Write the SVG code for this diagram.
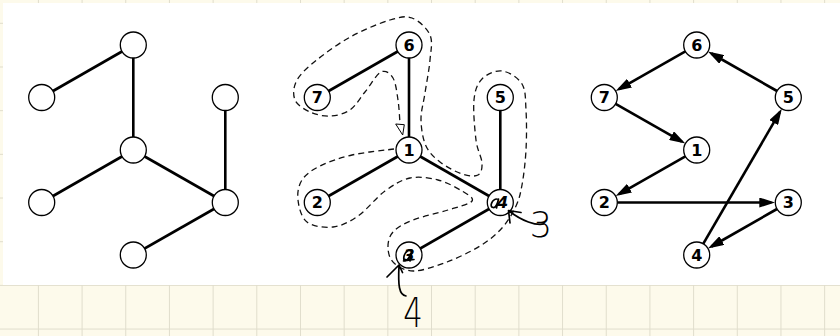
<svg xmlns="http://www.w3.org/2000/svg" width="840" height="336" viewBox="0 0 840 336">
<defs>
<pattern id="grid" x="37.9" y="22.8" width="43.68" height="43.68" patternUnits="userSpaceOnUse">
<path d="M0.5,0 V43.68 M0,0.5 H43.68" stroke="#e0ddcc" stroke-width="1" fill="none"/>
</pattern>
<marker id="ah" markerWidth="16" markerHeight="10" refX="12" refY="5" orient="auto" markerUnits="userSpaceOnUse">
<path d="M0,0 L16,5 L0,10 z" fill="#000"/>
</marker>
<style>
.n circle{fill:#fff;stroke:#000;stroke-width:1.3}
.n text{font-family:"DejaVu Sans",sans-serif;font-weight:bold;font-size:16px;text-anchor:middle;fill:#000}
.e line{stroke:#000;stroke-width:2.6}
.a line{stroke:#000;stroke-width:2.6;marker-end:url(#ah)}
.tour{fill:none;stroke:#111;stroke-width:1.3;stroke-dasharray:6 4}
.ink{fill:none;stroke:#000;stroke-width:1.7;stroke-linecap:round;stroke-linejoin:round}
.hand{font-family:"DejaVu Sans ExtraLight","DejaVu Sans",sans-serif;font-weight:200;fill:#000}
</style>
</defs>
<rect width="840" height="336" fill="#fdfaeb"/>
<rect width="840" height="336" fill="url(#grid)"/>
<rect x="3" y="3" width="837" height="282" fill="#fff"/>

<g id="connectors">
<g class="e">
<line x1="133.3" y1="45" x2="41.7" y2="97.5"/>
<line x1="133.3" y1="45" x2="133.3" y2="150"/>
<line x1="133.3" y1="150" x2="41.7" y2="202.5"/>
<line x1="133.3" y1="150" x2="225.3" y2="202.5"/>
<line x1="225.3" y1="97.5" x2="225.3" y2="202.5"/>
<line x1="225.3" y1="202.5" x2="133.3" y2="255"/>
<line x1="409" y1="45" x2="317.3" y2="97.5"/>
<line x1="409" y1="45" x2="409" y2="150"/>
<line x1="409" y1="150" x2="317.3" y2="202.5"/>
<line x1="409" y1="150" x2="500.3" y2="202.5"/>
<line x1="500.3" y1="97.5" x2="500.3" y2="202.5"/>
<line x1="500.3" y1="202.5" x2="409" y2="255"/>
</g>
<g class="a">
<line x1="685.4" y1="51.4" x2="619.1" y2="89.1"/>
<line x1="615.6" y1="103.9" x2="681.9" y2="141.6"/>
<line x1="685.4" y1="156.4" x2="619.1" y2="194.1"/>
<line x1="617.3" y1="202.5" x2="771.3" y2="202.5"/>
<line x1="777" y1="209" x2="711.4" y2="246.5"/>
<line x1="703.2" y1="243.8" x2="779.8" y2="112.2"/>
<line x1="777" y1="91" x2="711.4" y2="53.5"/>
</g>
<path class="tour" d="M394,149 C387,150 364.3,152.2 352,155 C339.7,157.8 328.3,161.8 320,166 C311.7,170.2 305.7,174.3 302,180 C298.3,185.7 297.2,193 298,200 C298.8,207 301.2,217.5 307,222 C312.8,226.5 324.5,228 333,227 C341.5,226 349.3,222 358,216 C366.7,210 376.3,197.3 385,191 C393.7,184.7 401.2,179.8 410,178 C418.8,176.2 429.3,177.8 438,180 C446.7,182.2 456.3,187.5 462,191 C467.7,194.5 474.3,197.8 472,201 C469.7,204.2 457.8,206.8 448,210 C438.2,213.2 422.2,216.3 413,220 C403.8,223.7 397.2,227.3 393,232 C388.8,236.7 387.8,242.8 388,248 C388.2,253.2 389.7,259.2 394,263 C398.3,266.8 405.2,271.2 414,271 C422.8,270.8 436,266.2 447,262 C458,257.8 470.8,251.7 480,246 C489.2,240.3 496,234.7 502,228 C508,221.3 512.7,213.2 516,206 C519.3,198.8 520.3,194.3 522,185 C523.7,175.7 525.3,162.5 526,150 C526.7,137.5 526.7,121 526,110 C525.3,99 526,90.5 522,84 C518,77.5 508.7,71.8 502,71 C495.3,70.2 486.7,74.2 482,79 C477.3,83.8 475,89.8 474,100 C473,110.2 474.7,129.5 476,140 C477.3,150.5 481.7,157.2 482,163 C482.3,168.8 481.3,173.2 478,175 C474.7,176.8 468.3,176.2 462,174 C455.7,171.8 446,166.7 440,162 C434,157.3 429.2,153 426,146 C422.8,139 421.2,128.8 421,120 C420.8,111.2 423.5,103 425,93 C426.5,83 429.2,69.7 430,60 C430.8,50.3 433,42 430,35 C427,28 418.7,20.5 412,18 C405.3,15.5 400,17 390,20 C380,23 364,29.5 352,36 C340,42.5 327.2,51.7 318,59 C308.8,66.3 300.8,73.2 297,80 C293.2,86.8 292.8,94.7 295,100 C297.2,105.3 304.2,109.3 310,112 C315.8,114.7 323.3,116.3 330,116 C336.7,115.7 344.2,114 350,110 C355.8,106 359.8,98.3 365,92 C370.2,85.7 376.3,74.3 381,72 C385.7,69.7 390.2,73.3 393,78 C395.8,82.7 396.8,92.3 398,100 C399.2,107.7 399.7,120 400,124"/>
<polygon points="395.7,124 404.3,124.7 402.7,135" fill="#fff" stroke="#000" stroke-width="1"/>
</g>

<g id="left-tree">
<g id="l-top" class="n"><circle cx="133.3" cy="45" r="13"/></g>
<g id="l-lu" class="n"><circle cx="41.7" cy="97.5" r="13"/></g>
<g id="l-ru" class="n"><circle cx="225.3" cy="97.5" r="13"/></g>
<g id="l-c" class="n"><circle cx="133.3" cy="150" r="13"/></g>
<g id="l-ll" class="n"><circle cx="41.7" cy="202.5" r="13"/></g>
<g id="l-rl" class="n"><circle cx="225.3" cy="202.5" r="13"/></g>
<g id="l-b" class="n"><circle cx="133.3" cy="255" r="13"/></g>
</g>

<g id="middle-tree">
<g id="m6" class="n"><circle cx="409" cy="45" r="13"/><text x="409" y="50.8">6</text></g>
<g id="m7" class="n"><circle cx="317.3" cy="97.5" r="13"/><text x="317.3" y="103.3">7</text></g>
<g id="m1" class="n"><circle cx="409" cy="150" r="13"/><text x="409" y="155.8">1</text></g>
<g id="m5" class="n"><circle cx="500.3" cy="97.5" r="13"/><text x="500.3" y="103.3">5</text></g>
<g id="m2" class="n"><circle cx="317.3" cy="202.5" r="13"/><text x="317.3" y="208.3">2</text></g>
<g id="m4" class="n"><circle cx="500.3" cy="202.5" r="13"/><text x="502.5" y="208.3" font-style="italic">4</text>
<path class="ink" stroke-width="2.4" d="M497,199 C492,199 489,207 493,207.5 C496,208 498,202 498.5,199 L496.5,208"/></g>
<g id="m3" class="n"><circle cx="409" cy="255" r="13"/><text x="409" y="260.8" font-style="italic">3</text>
<path class="ink" stroke-width="2.6" d="M412,250 C406,249 403,256 404,260 C406,263 410,257 412,251 L410,261 M403.5,261 L414,259.5"/></g>
</g>

<g id="right-graph">
<g id="r6" class="n"><circle cx="696.7" cy="45" r="13"/><text x="696.7" y="50.8">6</text></g>
<g id="r7" class="n"><circle cx="604.3" cy="97.5" r="13"/><text x="604.3" y="103.3">7</text></g>
<g id="r5" class="n"><circle cx="788.3" cy="97.5" r="13"/><text x="788.3" y="103.3">5</text></g>
<g id="r1" class="n"><circle cx="696.7" cy="150" r="13"/><text x="696.7" y="155.8">1</text></g>
<g id="r2" class="n"><circle cx="604.3" cy="202.5" r="13"/><text x="604.3" y="208.3">2</text></g>
<g id="r3" class="n"><circle cx="788.3" cy="202.5" r="13"/><text x="788.3" y="208.3">3</text></g>
<g id="r4" class="n"><circle cx="696.7" cy="255" r="13"/><text x="696.7" y="260.8">4</text></g>
</g>

<g id="annotations">
<path class="ink" d="M544,224 C536,226 522,221 509,211 M521,212.5 L508.5,210.5 L510,223"/>
<text class="hand" x="541" y="237" font-size="35" text-anchor="middle">3</text>
<path class="ink" d="M406,296 C399,295 398,285 399,266 M387,277 L399,265 L402.5,272.5"/>
<text class="hand" x="0" y="0" font-size="41" text-anchor="middle" transform="translate(413,327) scale(0.75,1)">4</text>
</g>
</svg>
